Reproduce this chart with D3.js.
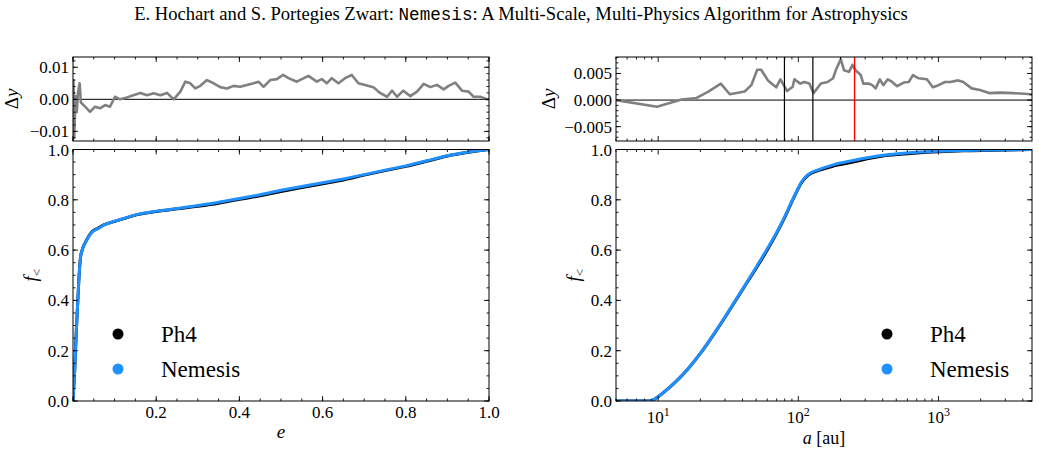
<!DOCTYPE html>
<html>
<head>
<meta charset="utf-8">
<script src="https://cdn.jsdelivr.net/npm/d3@7"></script>
<style>
  body { margin: 0; background: #fff; }
  text { font-family: "Liberation Serif", "DejaVu Serif", serif; fill: #000; }
</style>
</head>
<body>
<svg id="fig" width="1039" height="455"></svg>
<script>
// eccentricity CDF (left)
var eccX = [0, 0.004, 0.008, 0.011, 0.014, 0.018, 0.022, 0.03, 0.045, 0.06, 0.075, 0.1, 0.12, 0.15, 0.2, 0.25, 0.3, 0.35, 0.4, 0.45, 0.5, 0.55, 0.6, 0.65, 0.7, 0.75, 0.8, 0.85, 0.9, 0.95, 1.0];
var eccNemesis = [0, 0.12, 0.28, 0.38, 0.48, 0.57, 0.60, 0.63, 0.67, 0.685, 0.70, 0.715, 0.725, 0.74, 0.755, 0.765, 0.777, 0.79, 0.805, 0.82, 0.838, 0.853, 0.868, 0.883, 0.90, 0.918, 0.935, 0.955, 0.975, 0.99, 1.0];
var eccPh4 = [0, 0.12, 0.28, 0.38, 0.48, 0.57, 0.60, 0.632, 0.672, 0.687, 0.701, 0.714, 0.724, 0.739, 0.753, 0.764, 0.774, 0.786, 0.802, 0.816, 0.833, 0.849, 0.864, 0.879, 0.898, 0.916, 0.933, 0.953, 0.974, 0.989, 1.0];

// eccentricity residual
var eccDyX = [0, 0.001, 0.003, 0.006, 0.009, 0.012, 0.016, 0.019, 0.029, 0.041, 0.053, 0.065, 0.077, 0.089, 0.101, 0.113, 0.130, 0.145, 0.162, 0.178, 0.194, 0.210, 0.226, 0.242, 0.258, 0.270, 0.282, 0.294, 0.306, 0.322, 0.338, 0.354, 0.370, 0.386, 0.402, 0.418, 0.434, 0.446, 0.458, 0.474, 0.490, 0.505, 0.518, 0.538, 0.566, 0.586, 0.598, 0.610, 0.622, 0.638, 0.654, 0.670, 0.686, 0.702, 0.722, 0.738, 0.755, 0.767, 0.779, 0.794, 0.811, 0.827, 0.843, 0.859, 0.875, 0.891, 0.903, 0.919, 0.935, 0.951, 0.963, 0.979, 0.995, 1.0];
var eccDyY = [0, 0.006, -0.012, 0.001, -0.004, 0.002, 0.005, -0.001, -0.0023, -0.0039, -0.0023, -0.0028, -0.0018, -0.0023, 0.0008, 0, 0.0006, 0.0013, 0.002, 0.0013, 0.0019, 0.0013, 0.002, 0, 0.0024, 0.0055, 0.005, 0.0034, 0.0042, 0.006, 0.005, 0.0038, 0.0034, 0.0042, 0.0039, 0.0045, 0.005, 0.0055, 0.0039, 0.006, 0.0063, 0.0076, 0.0066, 0.0055, 0.0073, 0.0055, 0.0063, 0.005, 0.0066, 0.005, 0.0066, 0.0076, 0.005, 0.0045, 0.0038, 0.002, 0.0008, 0.0027, 0.0008, 0.0027, 0.001, 0.0024, 0.0048, 0.0038, 0.0045, 0.0031, 0.0042, 0.0052, 0.0027, 0.0024, 0.0008, 0.0008, 0, 0];

// semi-major axis CDF (right)
var smaX = [5, 8.7, 9.3, 10, 12, 14, 16.4, 20, 25, 30, 40, 50, 60, 70, 80, 94, 105, 117, 140, 180, 250, 310, 400, 535, 700, 1000, 1500, 2500, 4650];
var smaNemesis = [0, 0, 0.005, 0.017, 0.053, 0.088, 0.129, 0.189, 0.267, 0.335, 0.445, 0.532, 0.605, 0.67, 0.733, 0.817, 0.87, 0.90, 0.92, 0.94, 0.957, 0.967, 0.977, 0.984, 0.989, 0.993, 0.996, 0.998, 1.0];
var smaPh4 = [0, 0, 0.005, 0.017, 0.053, 0.088, 0.129, 0.189, 0.266, 0.333, 0.443, 0.528, 0.6, 0.667, 0.73, 0.815, 0.867, 0.897, 0.917, 0.935, 0.951, 0.963, 0.974, 0.981, 0.986, 0.991, 0.995, 0.997, 1.0];

// semi-major axis residual
var smaDyX = [5, 9.8, 14.7, 18.8, 22.8, 28.0, 32.4, 41.4, 46.2, 50.9, 54.3, 60.7, 69.5, 74.5, 83.2, 91.2, 93.7, 103.3, 110.3, 119.7, 128.5, 144.9, 161.7, 177, 185, 201, 212, 230, 243, 256, 279, 291, 319, 337, 356, 382, 404, 435, 468, 507, 565, 613, 658, 721, 827, 912, 1000, 1114, 1210, 1387, 1504, 1725, 1977, 2328, 2740, 3406, 4650];
var smaDyY = [0, -0.00125, 0.0001, 0.0004, 0.0016, 0.0031, 0.0011, 0.0016, 0.0028, 0.0057, 0.0057, 0.0037, 0.0024, 0.0039, 0.0017, 0.0025, 0.0039, 0.0031, 0.0034, 0.0031, 0.0013, 0.0031, 0.0034, 0.0041, 0.0056, 0.0077, 0.0056, 0.0053, 0.0066, 0.0056, 0.0047, 0.0031, 0.0031, 0.0028, 0.0022, 0.0039, 0.0028, 0.0039, 0.0034, 0.0026, 0.0033, 0.0034, 0.0047, 0.0041, 0.0039, 0.0024, 0.0028, 0.0034, 0.0034, 0.0037, 0.0034, 0.0022, 0.0019, 0.0013, 0.0014, 0.0013, 0.0011];
var smaMarkBlack = [79.6, 127];
var smaMarkRed = [252];

var legendNames = ["Ph4", "Nemesis"];
var legendColors = ["#000000", "#1e90ff"];

var svg = d3.select("#fig");

svg.append("text")
  .attr("x", 521).attr("y", 20)
  .attr("text-anchor", "middle")
  .style("font-size", "18.6px")
  .html('E. Hochart and S. Portegies Zwart: <tspan style="font-family:\'Liberation Mono\',\'DejaVu Sans Mono\',monospace;font-size:17.6px">Nemesis</tspan>: A Multi-Scale, Multi-Physics Algorithm for Astrophysics');

var topY = [57, 141], botY = [149.5, 401];
var leftX = [73, 489], rightX = [616, 1032];

// scales
var xEcc = d3.scaleLinear().domain([0, 1]).range(leftX);
var xSma = d3.scaleLog().domain([5, 4650]).range(rightX);
var yCdf = d3.scaleLinear().domain([0, 1]).range([botY[1], botY[0]]);
var yDyL = d3.scaleLinear().domain([-0.013, 0.0132]).range([topY[1], topY[0]]);
var yDyR = d3.scaleLinear().domain([-0.0077, 0.0081]).range([topY[1], topY[0]]);

var clipN = 0;
function frame(xr, yr) {
  var id = "clip" + (clipN++);
  svg.append("clipPath").attr("id", id)
    .append("rect").attr("x", xr[0]).attr("y", yr[0])
    .attr("width", xr[1] - xr[0]).attr("height", yr[1] - yr[0]);
  return id;
}

function ticksX(xs, yr, vals, len) {
  var g = svg.append("g");
  vals.forEach(function (v) {
    var x = xs(v);
    g.append("line").attr("x1", x).attr("x2", x).attr("y1", yr[1]).attr("y2", yr[1] - len);
    g.append("line").attr("x1", x).attr("x2", x).attr("y1", yr[0]).attr("y2", yr[0] + len);
  });
  g.selectAll("line").attr("stroke", "#000").attr("stroke-width", 0.9);
}

function ticksY(ys, xr, vals, len) {
  var g = svg.append("g");
  vals.forEach(function (v) {
    var y = ys(v);
    g.append("line").attr("y1", y).attr("y2", y).attr("x1", xr[0]).attr("x2", xr[0] + len);
    g.append("line").attr("y1", y).attr("y2", y).attr("x1", xr[1]).attr("x2", xr[1] - len);
  });
  g.selectAll("line").attr("stroke", "#000").attr("stroke-width", 0.9);
}

function labelsY(ys, xr, vals, fmt) {
  vals.forEach(function (v) {
    svg.append("text")
      .attr("x", xr[0] - 4).attr("y", ys(v) + 6)
      .attr("text-anchor", "end")
      .style("font-size", "17px")
      .text(fmt(v));
  });
}

function box(xr, yr) {
  svg.append("rect").attr("x", xr[0]).attr("y", yr[0])
    .attr("width", xr[1] - xr[0]).attr("height", yr[1] - yr[0])
    .attr("fill", "none").attr("stroke", "#000").attr("stroke-width", 1);
}

function minus(s) { return s.replace("-", "\u2212"); }

var range = d3.range;
var linMinor = range(0, 1.0001, 0.05);
var linMajor = range(0, 1.0001, 0.2);
var logMajor = [10, 100, 1000];
var logMinor = [];
[1, 10, 100, 1000].forEach(function (d) {
  for (var k = 2; k <= 9; k++) {
    var v = d * k;
    if (v >= 5 && v <= 4650) logMinor.push(v);
  }
});

var line = function (xs, ys) {
  return d3.line().x(function (d) { return xs(d[0]); }).y(function (d) { return ys(d[1]); });
};

// ---------- left top: eccentricity residual ----------
var c1 = frame(leftX, topY);
svg.append("line").attr("x1", leftX[0]).attr("x2", leftX[1])
  .attr("y1", yDyL(0)).attr("y2", yDyL(0)).attr("stroke", "#000").attr("stroke-width", 1);
svg.append("path").datum(d3.zip(eccDyX, eccDyY))
  .attr("clip-path", "url(#" + c1 + ")")
  .attr("d", line(xEcc, yDyL))
  .attr("fill", "none").attr("stroke", "#808080").attr("stroke-width", 2.6)
  .attr("stroke-linejoin", "round");
ticksX(xEcc, topY, linMajor, 5);
ticksX(xEcc, topY, linMinor, 2.5);
ticksY(yDyL, leftX, [-0.01, 0, 0.01], 5);
ticksY(yDyL, leftX, range(-0.012, 0.0121, 0.002), 2.5);
labelsY(yDyL, leftX, [-0.01, 0, 0.01], function (v) { return minus(d3.format(".2f")(v)); });
box(leftX, topY);

// ---------- right top: semi-major axis residual ----------
var c2 = frame(rightX, topY);
svg.append("line").attr("x1", rightX[0]).attr("x2", rightX[1])
  .attr("y1", yDyR(0)).attr("y2", yDyR(0)).attr("stroke", "#000").attr("stroke-width", 1);
svg.append("path").datum(d3.zip(smaDyX, smaDyY))
  .attr("clip-path", "url(#" + c2 + ")")
  .attr("d", line(xSma, yDyR))
  .attr("fill", "none").attr("stroke", "#808080").attr("stroke-width", 2.6)
  .attr("stroke-linejoin", "round");
smaMarkBlack.forEach(function (v) {
  svg.append("line").attr("x1", xSma(v)).attr("x2", xSma(v))
    .attr("y1", topY[0]).attr("y2", topY[1]).attr("stroke", "#000").attr("stroke-width", 1.2);
});
smaMarkRed.forEach(function (v) {
  svg.append("line").attr("x1", xSma(v)).attr("x2", xSma(v))
    .attr("y1", topY[0]).attr("y2", topY[1]).attr("stroke", "#ff0000").attr("stroke-width", 1.4);
});
ticksX(xSma, topY, logMajor, 5);
ticksX(xSma, topY, logMinor, 2.5);
ticksY(yDyR, rightX, [-0.005, 0, 0.005], 5);
ticksY(yDyR, rightX, range(-0.007, 0.0081, 0.001), 2.5);
labelsY(yDyR, rightX, [-0.005, 0, 0.005], function (v) { return minus(d3.format(".3f")(v)); });
box(rightX, topY);

// ---------- left bottom: eccentricity CDF ----------
var c3 = frame(leftX, botY);
svg.append("path").datum(d3.zip(eccX, eccPh4))
  .attr("clip-path", "url(#" + c3 + ")")
  .attr("d", line(xEcc, yCdf).curve(d3.curveMonotoneX))
  .attr("fill", "none").attr("stroke", legendColors[0]).attr("stroke-width", 3);
svg.append("path").datum(d3.zip(eccX, eccNemesis))
  .attr("clip-path", "url(#" + c3 + ")")
  .attr("d", line(xEcc, yCdf).curve(d3.curveMonotoneX))
  .attr("fill", "none").attr("stroke", legendColors[1]).attr("stroke-width", 3);
ticksX(xEcc, botY, linMajor, 5);
ticksX(xEcc, botY, linMinor, 2.5);
ticksY(yCdf, leftX, linMajor, 5);
ticksY(yCdf, leftX, linMinor, 2.5);
labelsY(yCdf, leftX, linMajor, d3.format(".1f"));
linMajor.slice(1).forEach(function (v) {
  svg.append("text").attr("x", xEcc(v)).attr("y", botY[1] + 17)
    .attr("text-anchor", "middle").style("font-size", "17px")
    .text(d3.format(".1f")(v));
});
box(leftX, botY);

// ---------- right bottom: semi-major axis CDF ----------
var c4 = frame(rightX, botY);
svg.append("path").datum(d3.zip(smaX, smaPh4))
  .attr("clip-path", "url(#" + c4 + ")")
  .attr("d", line(xSma, yCdf).curve(d3.curveMonotoneX))
  .attr("fill", "none").attr("stroke", legendColors[0]).attr("stroke-width", 3);
svg.append("path").datum(d3.zip(smaX, smaNemesis))
  .attr("clip-path", "url(#" + c4 + ")")
  .attr("d", line(xSma, yCdf).curve(d3.curveMonotoneX))
  .attr("fill", "none").attr("stroke", legendColors[1]).attr("stroke-width", 3);
ticksX(xSma, botY, logMajor, 5);
ticksX(xSma, botY, logMinor, 2.5);
ticksY(yCdf, rightX, linMajor, 5);
ticksY(yCdf, rightX, linMinor, 2.5);
labelsY(yCdf, rightX, linMajor, d3.format(".1f"));
logMajor.forEach(function (v) {
  svg.append("text").attr("x", xSma(v)).attr("y", botY[1] + 22)
    .attr("text-anchor", "middle").style("font-size", "17px")
    .html("10<tspan dy='-7' style='font-size:12px'>" + Math.round(Math.log10(v)) + "</tspan>");
});
box(rightX, botY);

// ---------- axis titles ----------
function dyLabel(x) {
  svg.append("text").attr("transform", "translate(" + x + "," + ((topY[0] + topY[1]) / 2) + ") rotate(-90)")
    .attr("text-anchor", "middle").style("font-size", "19px")
    .html("\u0394<tspan style='font-style:italic'>y</tspan>");
}
function fLabel(x) {
  svg.append("text").attr("transform", "translate(" + x + "," + ((botY[0] + botY[1]) / 2) + ") rotate(-90)")
    .attr("text-anchor", "middle").style("font-size", "19px")
    .html("<tspan style='font-style:italic'>f</tspan><tspan dy='4' style='font-size:13px'>&lt;</tspan>");
}
dyLabel(18);
dyLabel(555);
fLabel(37);
fLabel(580);

svg.append("text").attr("x", (leftX[0] + leftX[1]) / 2).attr("y", 438)
  .attr("text-anchor", "middle").style("font-size", "19px").style("font-style", "italic").text("e");
svg.append("text").attr("x", (rightX[0] + rightX[1]) / 2).attr("y", 444)
  .attr("text-anchor", "middle").style("font-size", "18px")
  .html("<tspan style='font-style:italic'>a</tspan> [au]");

// ---------- legends ----------
function legend(dotX, textX) {
  legendNames.forEach(function (name, i) {
    var y = 334 + i * 35;
    svg.append("circle").attr("cx", dotX).attr("cy", y).attr("r", 5.5).attr("fill", legendColors[i]);
    svg.append("text").attr("x", textX).attr("y", y + 8).style("font-size", "23px").text(name);
  });
}
legend(118, 161);
legend(887, 930);
</script>
</body>
</html>
